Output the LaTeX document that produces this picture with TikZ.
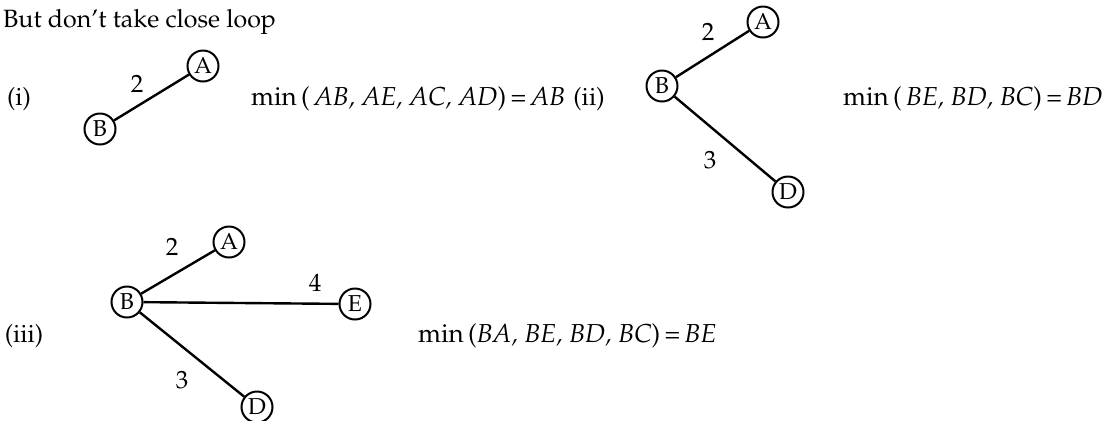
\documentclass[tikz,border=0pt]{standalone}
\usepackage[T1]{fontenc}
\usepackage{mathpazo}
\usepackage{amsmath}
\usepackage{tikz}

\begin{document}
\begin{tikzpicture}[x=0.5pt,y=-0.5pt,line width=1.2pt,
  vtx/.style={draw,circle,line width=1pt,inner sep=0pt,minimum size=15.5pt,font=\fontsize{11.5}{13}\selectfont},
  wt/.style={font=\fontsize{12.5}{14}\selectfont},
  txt/.style={font=\fontsize{12.5}{15}\selectfont,inner sep=0pt},
  eqn/.style={font=\fontsize{13}{15}\selectfont,inner sep=0pt,anchor=west}]
\useasboundingbox (0,0) rectangle (1104,420);

\node[txt,anchor=west] (title) at (2,22) {But don't take close loop};

% (i)
\node[txt] (li) at (19,99) {(i)};
\node[vtx] (b1) at (100,129) {B};
\node[vtx] (a1) at (203,66) {A};
\draw (b1) -- (a1);
\node[wt] (w1) at (137,84) {2};
\node[eqn] (m1) at (250,99) {min\,(\,\textit{AB, AE, AC, AD\/})\,=\,\textit{AB}};

% (ii)
\node[txt] (lii) at (589,99) {(ii)};
\node[vtx] (b2) at (662,86) {B};
\node[vtx] (a2) at (763,22) {A};
\node[vtx] (d2) at (788,192) {D};
\draw (b2) -- (a2);
\draw (b2) -- (d2);
\node[wt] (w2) at (708,32) {2};
\node[wt] (w3) at (710,160) {3};
\node[eqn] (m2) at (842,99) {min\,(\,\textit{BE, BD, BC\/})\,=\,\textit{BD}};

% (iii)
\node[txt] (liii) at (24,336) {(iii)};
\node[vtx] (b3) at (127,302) {B};
\node[vtx] (a3) at (229,242) {A};
\node[vtx] (e3) at (355,304) {E};
\node[vtx] (d3) at (257,407) {D};
\draw (b3) -- (a3);
\draw (b3) -- (e3);
\draw (b3) -- (d3);
\node[wt] (w4) at (172,247) {2};
\node[wt] (w5) at (315,283) {4};
\node[wt] (w6) at (182,380) {3};
\node[eqn] (m3) at (417,336) {min\,(\textit{BA, BE, BD, BC\/})\,=\,\textit{BE}};

\end{tikzpicture}
\end{document}
